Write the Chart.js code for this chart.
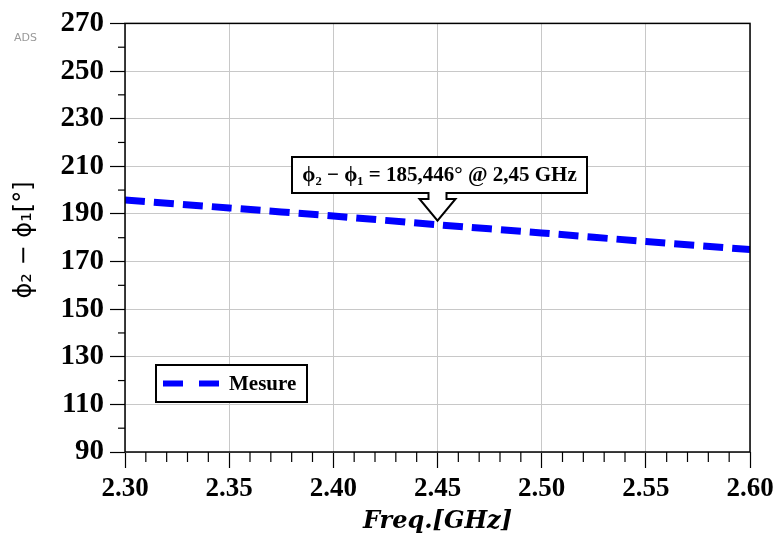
<!DOCTYPE html>
<html><head><meta charset="utf-8">
<script src="https://cdn.jsdelivr.net/npm/chart.js@4.4.0/dist/chart.umd.min.js"></script>
<style>html,body{margin:0;padding:0;background:#fff}#wrap{width:779px;height:540px;position:relative}</style>
</head><body><div id="wrap"><canvas id="c" width="779" height="540"></canvas></div>
<script>
const freqs = [2.30, 2.35, 2.40, 2.45, 2.50, 2.55, 2.60];
const phaseDiff = [195.8, 192.5, 189.1, 185.446, 182.0, 178.4, 175.0];
const seriesName = 'Mesure';
const annotationText = 'ϕ₂ − ϕ₁ = 185,446° @ 2,45 GHz';
const annotationX = 2.45, annotationY = 185.446;
const xTitle = 'Freq.[GHz]';
const yTitle = 'ϕ₂ − ϕ₁[°]';

const extras = {
  id: 'extras',
  afterDraw(chart) {
    const ctx = chart.ctx, a = chart.chartArea;
    const xs = chart.scales.x, ys = chart.scales.y;
    ctx.save();
    ctx.strokeStyle = '#000'; ctx.lineWidth = 1.5;
    ctx.strokeRect(a.left, a.top, a.right - a.left, a.bottom - a.top);
    ctx.lineWidth = 1.2;
    for (let v = 100; v < 270; v += 20) {
      const y = ys.getPixelForValue(v);
      ctx.beginPath(); ctx.moveTo(a.left - 7, y); ctx.lineTo(a.left, y); ctx.stroke();
    }
    for (let i = 0; i <= 30; i++) {
      if (i % 5 === 0) continue;
      const x = xs.getPixelForValue(2.30 + i * 0.01);
      ctx.beginPath(); ctx.moveTo(x, a.bottom); ctx.lineTo(x, a.bottom + 10); ctx.stroke();
    }
    // ADS
    ctx.fillStyle = '#999'; ctx.font = '11px "DejaVu Sans", sans-serif';
    ctx.textAlign = 'left'; ctx.textBaseline = 'middle';
    ctx.fillText('ADS', 14, 38);
    // y title
    ctx.save();
    ctx.translate(25, 240); ctx.rotate(-Math.PI / 2);
    ctx.fillStyle = '#000'; ctx.font = '24px "DejaVu Sans", sans-serif';
    ctx.textAlign = 'center'; ctx.textBaseline = 'middle';
    ctx.fillText(yTitle, 0, 0);
    ctx.restore();
    // x title
    ctx.fillStyle = '#000'; ctx.font = 'italic bold 24px "DejaVu Serif", serif';
    ctx.textAlign = 'center'; ctx.textBaseline = 'middle';
    ctx.fillText(xTitle, (a.left + a.right) / 2, 522);
    // legend
    const lx = 156, ly = 365, lw = 151, lh = 37;
    ctx.fillStyle = '#fff'; ctx.fillRect(lx, ly, lw, lh);
    ctx.strokeStyle = '#000'; ctx.lineWidth = 2;
    ctx.strokeRect(lx, ly, lw, lh);
    ctx.strokeStyle = '#0000ff'; ctx.lineWidth = 6; ctx.lineCap = 'butt';
    ctx.beginPath(); ctx.moveTo(163, 383.5); ctx.lineTo(183, 383.5); ctx.moveTo(199, 383.5); ctx.lineTo(219, 383.5); ctx.stroke();
    ctx.fillStyle = '#000'; ctx.font = 'bold 21px "Liberation Serif", serif';
    ctx.textAlign = 'left'; ctx.textBaseline = 'middle';
    ctx.fillText(seriesName, 229, 385);
    // annotation
    const px = xs.getPixelForValue(annotationX), py = ys.getPixelForValue(annotationY);
    const bx = 292, by = 157, bw = 295, bh = 36;
    ctx.beginPath();
    ctx.moveTo(bx, by); ctx.lineTo(bx + bw, by); ctx.lineTo(bx + bw, by + bh);
    ctx.lineTo(px + 9, by + bh); ctx.lineTo(px + 9, by + bh + 6); ctx.lineTo(px + 18, by + bh + 6);
    ctx.lineTo(px, py - 4);
    ctx.lineTo(px - 18, by + bh + 6); ctx.lineTo(px - 9, by + bh + 6); ctx.lineTo(px - 9, by + bh);
    ctx.lineTo(bx, by + bh); ctx.closePath();
    ctx.fillStyle = '#fff'; ctx.fill();
    ctx.strokeStyle = '#000'; ctx.lineWidth = 2; ctx.stroke();
    ctx.fillStyle = '#000'; ctx.font = 'bold 21px "Liberation Serif", serif';
    ctx.textAlign = 'center'; ctx.textBaseline = 'middle';
    ctx.fillText(annotationText, bx + bw / 2, by + bh / 2 + 1);
    ctx.restore();
  }
};

new Chart(document.getElementById('c'), {
  type: 'line',
  data: {
    datasets: [{
      label: seriesName,
      data: freqs.map((f, i) => ({ x: f, y: phaseDiff[i] })),
      borderColor: '#0000ff', borderWidth: 7, borderDash: [20, 9],
      borderCapStyle: 'butt', pointRadius: 0, tension: 0.3, fill: false
    }]
  },
  options: {
    responsive: false, animation: false,
    layout: { padding: { top: 23, right: 29, left: 0, bottom: 0 } },
    plugins: { legend: { display: false }, tooltip: { enabled: false } },
    scales: {
      x: {
        type: 'linear', min: 2.30, max: 2.60,
        afterFit(s) { s.height = 88; },
        afterBuildTicks(s) { s.ticks = freqs.map(v => ({ value: v })); },
        ticks: { callback: v => v.toFixed(2), color: '#000', padding: 5,
          font: { family: '"Liberation Serif", serif', weight: 'bold', size: 27 }, maxRotation: 0 },
        grid: { color: '#c8c8c8', lineWidth: 1, tickLength: 16, tickColor: '#000', tickWidth: 1.2 },
        border: { display: false }
      },
      y: {
        min: 90, max: 270,
        afterFit(s) { s.width = 125; },
        ticks: { stepSize: 20, color: '#000', padding: 6,
          font: { family: '"Liberation Serif", serif', weight: 'bold', size: 29 } },
        grid: { color: '#c8c8c8', lineWidth: 1, tickLength: 15, tickColor: '#000', tickWidth: 1.2 },
        border: { display: false }
      }
    }
  },
  plugins: [extras]
});
</script></body></html>
